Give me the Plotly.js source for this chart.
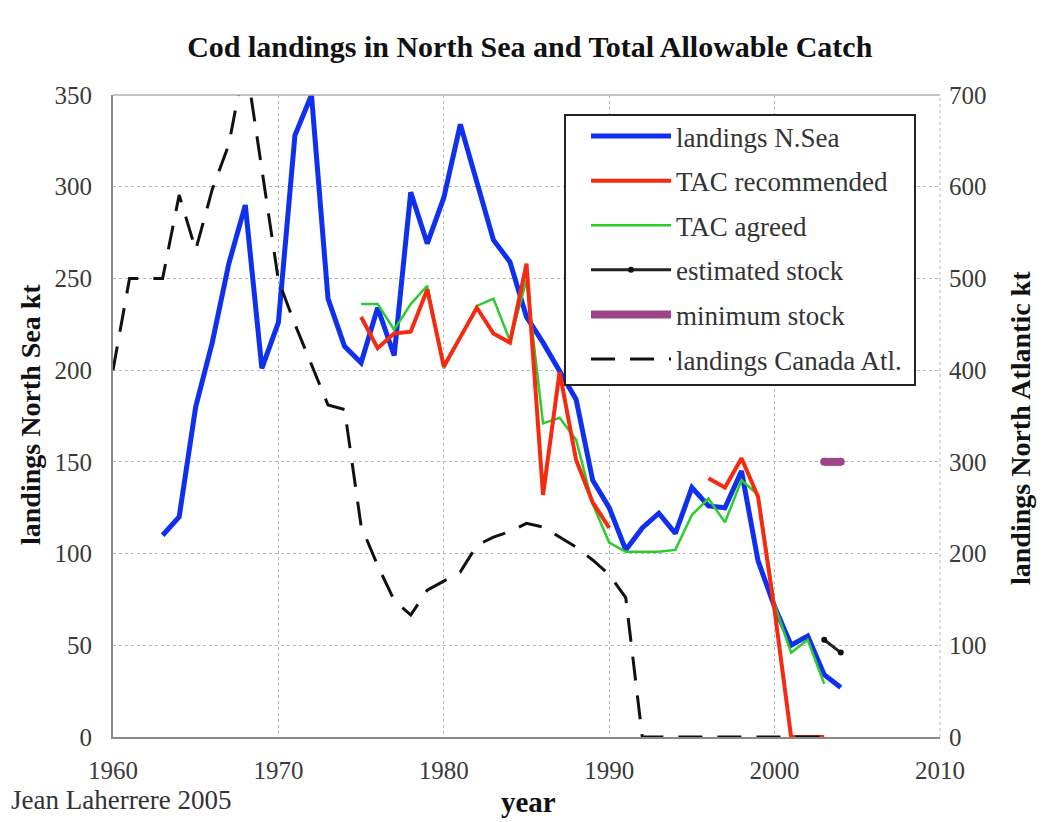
<!DOCTYPE html>
<html>
<head>
<meta charset="utf-8">
<script src="https://cdn.plot.ly/plotly-3.0.1.min.js"></script>
<style>html,body{margin:0;padding:0;background:#fff;}#chart{width:1049px;height:822px;}</style>
</head>
<body>
<div id="chart"></div>
<script>
// ---- data ----
const yearsNorthSea = [1963,1964,1965,1966,1967,1968,1969,1970,1971,1972,1973,1974,1975,1976,1977,1978,1979,1980,1981,1982,1983,1984,1985,1986,1987,1988,1989,1990,1991,1992,1993,1994,1995,1996,1997,1998,1999,2000,2001,2002,2003,2004];
const landingsNorthSea = [110,120,180,215,258,290,201,226,328,350,239,213,204,234,208,297,269,294,334,303,271,259,229,215,200,184,140,125,102,114,122,111,136,126,125,145,96,71,50,55,34,27];

const yearsTacRecA = [1975,1976,1977,1978,1979,1980,1981,1982,1983,1984,1985,1986,1987,1988,1989,1990];
const tacRecommendedA = [229,212,220,221,244,202,218,234,220,215,258,132,199,151,128,114];
const yearsTacRecB = [1996,1997,1998,1999,2000,2001,2002,2003];
const tacRecommendedB = [141,136,152,131,69,0,0,0];

const yearsTacAgreed = [1975,1976,1977,1978,1979,1980,1981,1982,1983,1984,1985,1986,1987,1988,1989,1990,1991,1992,1993,1994,1995,1996,1997,1998,1999,2000,2001,2002,2003];
const tacAgreed = [236,236,222,236,246,201,218,235,239,216,249,171,174,162,127,106,101,101,101,102,121,130,117,140,132,72,46,53,29];

const yearsStock = [2003,2004];
const estimatedStock = [53,46];
const minimumStock = [150,150];

const yearsCanada = [1960,1961,1962,1963,1964,1965,1966,1967,1968,1969,1970,1971,1972,1973,1974,1975,1976,1977,1978,1979,1980,1981,1982,1983,1984,1985,1986,1987,1988,1989,1990,1991,1992,1993,1994,1995,1996,1997,1998,1999,2000,2001,2002,2003];
const landingsCanada = [400,500,500,500,591,531,597,646,740,618,498,450,406,362,357,230,187,149,133,160,170,180,209,218,224,233,229,218,207,193,177,152,0,0,0,0,0,0,0,0,0,0,0,0];

const seriesNames = ["landings N.Sea","TAC recommended","TAC agreed","estimated stock","minimum stock","landings Canada Atl."];
const xTicks = [1960,1970,1980,1990,2000,2010];
const yLeftTicks = [0,50,100,150,200,250,300,350];
const yRightTicks = [0,100,200,300,400,500,600,700];

// ---- styling ----
const SERIF = '"Liberation Serif", "Times New Roman", serif';
const TICKCOL = '#3a3a3a';
const W = 1049, H = 822, ML = 113, MR = 109, MT = 95, MB = 85;
const PW = W - ML - MR, PH = H - MT - MB;
const px = x => (x - ML) / PW;          // pixel -> paper x
const py = y => (H - MB - y) / PH;      // pixel -> paper y

const traces = [
  {x: yearsCanada, y: landingsCanada, yaxis: 'y2', mode: 'lines', name: seriesNames[5],
   line: {color: '#111', width: 3, dash: '24px,15px'}, legendrank: 6, legendgroup: 'g6'},
  {x: yearsNorthSea, y: landingsNorthSea, mode: 'lines', name: seriesNames[0],
   line: {color: '#1030f0', width: 5}, legendrank: 1, legendgroup: 'g1'},
  {x: yearsTacAgreed, y: tacAgreed, mode: 'lines', name: seriesNames[2],
   line: {color: '#2dcc2d', width: 2.5}, legendrank: 3, legendgroup: 'g3'},
  {x: yearsTacRecA, y: tacRecommendedA, mode: 'lines', name: seriesNames[1],
   line: {color: '#f52a10', width: 4}, legendrank: 2, legendgroup: 'g2'},
  {x: yearsTacRecB, y: tacRecommendedB, mode: 'lines', name: seriesNames[1], showlegend: false,
   line: {color: '#f52a10', width: 4}, legendgroup: 'g2'},
  {x: yearsStock, y: estimatedStock, mode: 'lines+markers', name: seriesNames[3],
   line: {color: '#222', width: 3}, marker: {color: '#111', size: 6}, legendrank: 4, legendgroup: 'g4'},
  {x: yearsStock, y: minimumStock, mode: 'lines', name: seriesNames[4],
   line: {color: '#a0448a', width: 8}, legendrank: 5, legendgroup: 'g5'},
  {x: yearsStock, y: minimumStock, mode: 'markers', showlegend: false, legendgroup: 'g5',
   marker: {color: '#a0448a', size: 8, symbol: 'circle', line: {width: 0}}}
];

const layout = {
  width: W, height: H,
  margin: {l: ML, r: MR, t: MT, b: MB},
  paper_bgcolor: '#fff', plot_bgcolor: '#fff',
  font: {family: SERIF, color: TICKCOL},
  title: {text: '<b>Cod landings in North Sea and Total Allowable Catch</b>',
          font: {family: SERIF, size: 30, color: '#111'},
          x: 0.505, xanchor: 'center', y: 0.944, yanchor: 'middle', yref: 'container'},
  showlegend: true,
  legend: {x: px(586), y: py(112), xanchor: 'left', yanchor: 'top',
           bgcolor: 'rgba(0,0,0,0)', borderwidth: 0,
           font: {family: SERIF, size: 27, color: '#333'},
           traceorder: 'grouped', tracegroupgap: 6.5, itemwidth: 80},
  xaxis: {range: [1960, 2010], tickvals: xTicks, ticktext: xTicks.map(String),
          showgrid: true, gridcolor: '#b8b8b8', griddash: 'dot', gridwidth: 1,
          showline: true, linecolor: '#8a8a8a', linewidth: 2, zeroline: false,
          layer: 'below traces', ticklabelstandoff: 10,
          ticks: '', tickfont: {family: SERIF, size: 25, color: TICKCOL}},
  yaxis: {range: [0, 350], tickvals: yLeftTicks, ticktext: yLeftTicks.map(String),
          showgrid: true, gridcolor: '#b8b8b8', griddash: 'dot', gridwidth: 1,
          showline: true, linecolor: '#8a8a8a', linewidth: 2, zeroline: false,
          layer: 'below traces', ticklabelstandoff: 14,
          ticks: '', tickfont: {family: SERIF, size: 25, color: TICKCOL}},
  yaxis2: {range: [0, 700], overlaying: 'y', side: 'right',
           tickvals: yRightTicks, ticktext: yRightTicks.map(String),
           showgrid: false, zeroline: false, showline: false, ticks: '',
           ticklabelstandoff: 8,
           tickfont: {family: SERIF, size: 25, color: TICKCOL}},
  annotations: [
    {text: '<b>landings North Sea kt</b>', xref: 'paper', yref: 'paper', x: px(30), y: py(415),
     textangle: -90, showarrow: false, xanchor: 'center', yanchor: 'middle',
     font: {family: SERIF, size: 28, color: '#111'}},
    {text: '<b>landings North Atlantic kt</b>', xref: 'paper', yref: 'paper', x: px(1020), y: py(428),
     textangle: -90, showarrow: false, xanchor: 'center', yanchor: 'middle',
     font: {family: SERIF, size: 28, color: '#111'}},
    {text: '<b>year</b>', xref: 'paper', yref: 'paper', x: px(528), y: py(802),
     showarrow: false, xanchor: 'center', yanchor: 'middle',
     font: {family: SERIF, size: 29, color: '#111'}},
    {text: 'Jean Laherrere 2005', xref: 'paper', yref: 'paper', x: px(9), y: py(800),
     showarrow: false, xanchor: 'left', yanchor: 'middle',
     font: {family: SERIF, size: 27, color: '#333'}}
  ],
  shapes: [
    {type: 'line', xref: 'paper', yref: 'paper', x0: 0, x1: 1, y0: 1, y1: 1,
     line: {color: '#b0b0b0', width: 1.5}},
    {type: 'line', xref: 'paper', yref: 'paper', x0: 1, x1: 1, y0: 0, y1: 1,
     line: {color: '#b8b8b8', width: 1, dash: 'dot'}},
    {type: 'rect', xref: 'paper', yref: 'paper', layer: 'above',
     x0: px(565), x1: px(915), y0: py(385), y1: py(115),
     fillcolor: '#fff', line: {color: '#222', width: 2}}
  ]
};

Plotly.newPlot('chart', traces, layout, {displayModeBar: false, staticPlot: true});
</script>
</body>
</html>
